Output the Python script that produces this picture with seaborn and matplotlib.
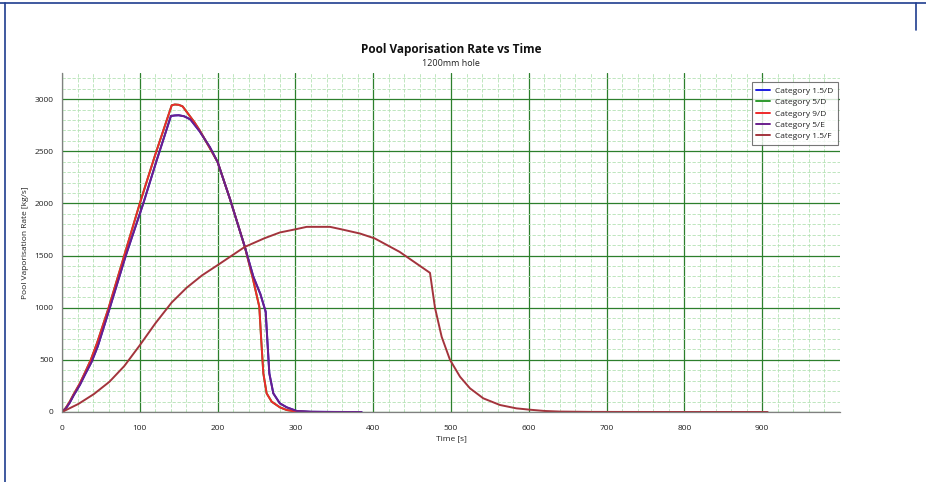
import numpy as np
import pandas as pd
import matplotlib
matplotlib.use('Agg')
import matplotlib.pyplot as plt
from matplotlib.lines import Line2D
from matplotlib.ticker import MultipleLocator
import seaborn as sns

# values
t_fast = [0, 5, 10, 15, 23, 30, 37, 45, 60, 80, 100, 120, 141, 145, 150, 155, 160, 170, 177,
          190, 200, 216, 235, 245, 253.6, 256, 258.8, 263, 269.5, 280, 288.8, 300, 315, 340]
rate_9d = [0, 40, 100, 170, 275, 385, 500, 660, 1000, 1500, 2000, 2470, 2940, 2948, 2945, 2930,
           2880, 2780, 2700, 2530, 2397, 2040, 1583, 1290, 1009, 700, 371, 179, 99, 45, 19, 5, 1, 0]

t_mid = [0, 5, 10, 15, 23, 30, 38, 46, 61.5, 82, 104.5, 122, 140, 145, 150, 157, 165, 177, 190,
         200, 216, 235, 246, 255, 261.8, 264, 266.5, 271.6, 280, 288.8, 301.6, 320, 350, 385]
rate_5e = [0, 35, 90, 160, 260, 365, 480, 630, 1000, 1500, 2000, 2420, 2838, 2843, 2845, 2835,
           2805, 2690, 2540, 2397, 2040, 1583, 1296, 1130, 961, 680, 370, 179, 83, 45, 10, 2, 0.5, 0]

t_slow = [0, 21, 41, 61, 80, 100, 120, 141, 160, 180, 200, 220, 235, 260, 280, 301, 314.5, 344.5,
          360, 383, 402, 434, 473, 479.4, 488, 498.7, 511.6, 524.4, 541.5, 563, 584, 601.5, 620,
          640, 680, 750, 850, 907]
rate_15f = [0, 77, 172, 290, 440, 640, 850, 1050, 1190, 1310, 1408, 1508, 1583, 1665, 1721, 1753,
            1775, 1775, 1750, 1711, 1664, 1535, 1334, 1000, 721, 500, 338, 227, 131, 67, 35, 22,
            10, 4, 1, 0.3, 0.1, 0]

series = [
    ('Category 1.5/D', t_mid, rate_5e, '#1c1ce0'),
    ('Category 5/D', t_fast, rate_9d, '#2e9a2e'),
    ('Category 9/D', t_fast, rate_9d, '#ee2a2a'),
    ('Category 5/E', t_mid, rate_5e, '#6a1f8c'),
    ('Category 1.5/F', t_slow, rate_15f, '#a3343c'),
]

sns.set_style('white')
plt.rcParams['font.family'] = ['Open Sans', 'DejaVu Sans']

fig = plt.figure(figsize=(9.26, 4.82), dpi=100)
ax = fig.add_axes([62 / 926, 70 / 482, 778 / 926, 339 / 482])

for name, t, r, col in series:
    df = pd.DataFrame({'t': t, 'r': r})
    sns.lineplot(data=df, x='t', y='r', ax=ax, color=col, lw=1.4, label=name,
                 estimator=None, sort=False)

ax.set_xlim(0, 1000)
ax.set_ylim(0, 3250)
ax.set_xticks(np.arange(0, 1000, 100))
ax.set_yticks(np.arange(0, 3001, 500))
ax.xaxis.set_minor_locator(MultipleLocator(20))
ax.yaxis.set_minor_locator(MultipleLocator(100))
ax.set_axisbelow(True)
ax.grid(which='minor', color='#b4e2b4', lw=0.6, ls=(0, (4, 2)))
ax.grid(which='major', color='#2c7f2c', lw=0.9)

for s in ['top', 'right']:
    ax.spines[s].set_visible(False)
for s in ['left', 'bottom']:
    ax.spines[s].set_color('#808080')
    ax.spines[s].set_linewidth(0.9)

ax.tick_params(axis='x', which='major', direction='in', length=3, width=0.8, colors='#222222',
               labelsize=6, pad=9)
ax.tick_params(axis='x', which='minor', direction='in', length=3, width=0.8, color='#222222')
ax.tick_params(axis='y', which='major', direction='out', length=4, width=0.8, colors='#222222',
               labelsize=6, pad=2)
ax.tick_params(axis='y', which='minor', direction='out', length=2, width=0.8, color='#222222')

ax.set_xlabel('Time [s]', fontsize=6, color='#222222', labelpad=3)
ax.set_ylabel('Pool Vaporisation Rate [kg/s]', fontsize=6, color='#222222')
ax.yaxis.set_label_coords(-0.043, 0.5)

fig.text(451 / 926, 1 - 49 / 482, 'Pool Vaporisation Rate vs Time', ha='center', va='center',
         fontsize=8.5, fontweight='bold', color='#111111')
fig.text(451 / 926, 1 - 63 / 482, '1200mm hole', ha='center', va='center', fontsize=6.5,
         color='#222222')

leg = ax.legend(loc='upper right', bbox_to_anchor=(0.997, 0.972), fontsize=6, frameon=True,
                fancybox=False, handlelength=1.6, borderpad=0.55, labelspacing=0.42,
                handletextpad=0.6, borderaxespad=0)
leg.get_frame().set_edgecolor('#555555')
leg.get_frame().set_linewidth(0.8)
for txt in leg.get_texts():
    txt.set_color('#222222')

# window border seen in the screenshot
blue = '#1f3d8f'
fig.add_artist(Line2D([0, 1], [1 - 3 / 482, 1 - 3 / 482], transform=fig.transFigure, color=blue, lw=1.2))
fig.add_artist(Line2D([5 / 926, 5 / 926], [0, 1 - 3 / 482], transform=fig.transFigure, color=blue, lw=1.2))
fig.add_artist(Line2D([916 / 926, 916 / 926], [1 - 3 / 482, 1 - 30 / 482], transform=fig.transFigure, color=blue, lw=1.2))

fig.savefig('out.png', dpi=100)
